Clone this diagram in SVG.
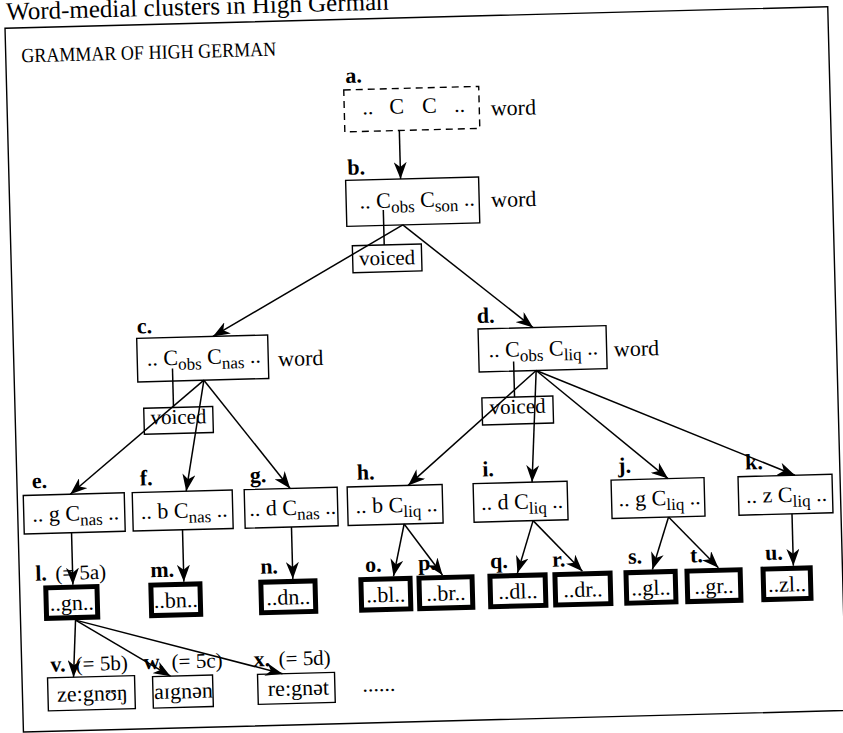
<svg xmlns="http://www.w3.org/2000/svg" width="843" height="733" viewBox="0 0 843 733">
<defs>
<marker id="ah" viewBox="0 0 17 13" markerWidth="17" markerHeight="13" refX="17" refY="6.5" orient="auto" markerUnits="userSpaceOnUse"><path d="M0,0 L17,6.5 L0,13 L5,6.5 Z" fill="#000"/></marker>
<style>
text{font-family:"Liberation Serif","DejaVu Serif",serif;fill:#000}
.t{font-size:22px}
.s{font-size:17px}
.lb{font-size:22px;font-weight:bold}
.n{font-size:21px}
.k{font-size:22px;text-anchor:middle}
.v{font-size:21px;text-anchor:middle}
.bx{fill:none;stroke:#000;stroke-width:1.4}
.tk{fill:none;stroke:#000;stroke-width:5}
.ds{stroke-dasharray:7 5}
.e{fill:none;stroke:#000;stroke-width:1.5}
.a{marker-end:url(#ah)}
.m{text-anchor:middle}
</style>
</defs>
<rect width="843" height="733" fill="#fff"/>
<g transform="rotate(-1.5 421 366)">
<text x="15.5" y="9" style="font-size:25px">Word-medial clusters in High German</text>
<rect class="bx" x="14" y="17.5" width="823" height="704"/>
<text x="29.5" y="52" style="font-size:20px" textLength="255" lengthAdjust="spacingAndGlyphs">GRAMMAR OF HIGH GERMAN</text>

<g id="node-a">
<rect class="bx ds" x="351" y="88" width="135" height="42"/>
<text class="lb" x="353" y="81">a.</text>
<text class="t" y="113"><tspan x="369">..</tspan><tspan x="396">C</tspan><tspan x="429">C</tspan><tspan x="461">..</tspan></text>
<text class="t" x="497.5" y="117.5">word</text>
</g>
<g id="node-b">
<rect class="bx" x="350.5" y="178.5" width="133" height="46"/>
<text class="lb" x="352.5" y="173">b.</text>
<text class="t" x="364" y="207">.. C<tspan class="s" dy="5">obs</tspan><tspan dy="-5"> C</tspan><tspan class="s" dy="5">son</tspan><tspan dy="-5"> ..</tspan></text>
<text class="t" x="495.5" y="209">word</text>
</g>
<g id="voiced-b">
<rect class="bx" x="355.5" y="244" width="69" height="27"/>
<text class="v" x="390" y="264">voiced</text>
</g>
<g id="node-c">
<rect class="bx" x="137.5" y="331" width="131" height="43.5"/>
<text class="lb" x="138" y="326">c.</text>
<text class="t" x="147" y="358.5">.. C<tspan class="s" dy="5">obs</tspan><tspan dy="-5"> C</tspan><tspan class="s" dy="5">nas</tspan><tspan dy="-5"> ..</tspan></text>
<text class="t" x="278.3" y="362.5">word</text>
</g>
<g id="voiced-c">
<rect class="bx" x="142.7" y="401" width="69" height="26"/>
<text class="v" x="177.2" y="417.5">voiced</text>
</g>
<g id="node-d">
<rect class="bx" x="479" y="330.5" width="128" height="43"/>
<text class="lb" x="478" y="324.5">d.</text>
<text class="t" x="489" y="359">.. C<tspan class="s" dy="5">obs</tspan><tspan dy="-5"> C</tspan><tspan class="s" dy="5">liq</tspan><tspan dy="-5"> ..</tspan></text>
<text class="t" x="614.2" y="361.5">word</text>
</g>
<g id="voiced-d">
<rect class="bx" x="481" y="399.5" width="71" height="27"/>
<text class="v" x="516.5" y="416">voiced</text>
</g>

<g id="node-e">
<rect class="bx" x="20" y="485" width="101" height="38.5"/>
<text class="lb" x="29" y="478">e.</text>
<text class="t m" x="72" y="511.5">.. g C<tspan class="s" dy="5">nas</tspan><tspan dy="-5"> ..</tspan></text>
</g>
<g id="node-f">
<rect class="bx" x="129" y="485" width="100" height="38.5"/>
<text class="lb" x="137" y="478">f.</text>
<text class="t m" x="180.5" y="511.5">.. b C<tspan class="s" dy="5">nas</tspan><tspan dy="-5"> ..</tspan></text>
</g>
<g id="node-g">
<rect class="bx" x="241" y="485" width="93" height="38.5"/>
<text class="lb" x="247" y="478">g.</text>
<text class="t m" x="289" y="511.5">.. d C<tspan class="s" dy="5">nas</tspan><tspan dy="-5"> ..</tspan></text>
</g>
<g id="node-h">
<rect class="bx" x="344" y="485" width="95" height="38.5"/>
<text class="lb" x="354" y="478">h.</text>
<text class="t m" x="393" y="511.5">.. b C<tspan class="s" dy="5">liq</tspan><tspan dy="-5"> ..</tspan></text>
</g>
<g id="node-i">
<rect class="bx" x="470" y="485" width="94" height="38.5"/>
<text class="lb" x="479.5" y="478">i.</text>
<text class="t m" x="518.5" y="511.5">.. d C<tspan class="s" dy="5">liq</tspan><tspan dy="-5"> ..</tspan></text>
</g>
<g id="node-j">
<rect class="bx" x="608" y="485" width="93" height="38.5"/>
<text class="lb" x="615.5" y="478">j.</text>
<text class="t m" x="656" y="511.5">.. g C<tspan class="s" dy="5">liq</tspan><tspan dy="-5"> ..</tspan></text>
</g>
<g id="node-k">
<rect class="bx" x="735" y="485" width="94" height="38.5"/>
<text class="lb" x="742.5" y="478">k.</text>
<text class="t m" x="783" y="511.5">.. z C<tspan class="s" dy="5">liq</tspan><tspan dy="-5"> ..</tspan></text>
</g>

<g id="node-l">
<rect class="tk" x="40.1" y="578" width="51.2" height="30.5"/>
<text class="lb" x="30" y="570.5">l.</text>
<text class="n" x="50" y="570.5">(= 5a)</text>
<text class="k" x="65.7" y="601">..gn..</text>
</g>
<g id="node-m">
<rect class="tk" x="145.2" y="578" width="49.1" height="30.5"/>
<text class="lb" x="145" y="570">m.</text>
<text class="k" x="169.7" y="601">..bn..</text>
</g>
<g id="node-n">
<rect class="tk" x="255.2" y="578" width="54.2" height="30.5"/>
<text class="lb" x="255" y="569.5">n.</text>
<text class="k" x="282.3" y="601">..dn..</text>
</g>
<g id="node-o">
<rect class="tk" x="355.3" y="578" width="49.2" height="30.5"/>
<text class="lb" x="360" y="570.5">o.</text>
<text class="k" x="379.9" y="601">..bl..</text>
</g>
<g id="node-p">
<rect class="tk" x="413.4" y="578" width="53.1" height="30.5"/>
<text class="lb" x="413" y="570">p.</text>
<text class="k" x="440" y="601">..br..</text>
</g>
<g id="node-q">
<rect class="tk" x="484.4" y="578" width="55.2" height="30.5"/>
<text class="lb" x="485" y="570">q.</text>
<text class="k" x="512" y="601">..dl..</text>
</g>
<g id="node-r">
<rect class="tk" x="549.4" y="578" width="55.2" height="30.5"/>
<text class="lb" x="547" y="570">r.</text>
<text class="k" x="577" y="601">..dr..</text>
</g>
<g id="node-s">
<rect class="tk" x="620.5" y="578" width="49.2" height="30.5"/>
<text class="lb" x="623" y="569">s.</text>
<text class="k" x="645.1" y="601">..gl..</text>
</g>
<g id="node-t">
<rect class="tk" x="681.5" y="578" width="53.2" height="30.5"/>
<text class="lb" x="685" y="569.5">t.</text>
<text class="k" x="708.1" y="601">..gr..</text>
</g>
<g id="node-u">
<rect class="tk" x="757.6" y="578" width="47.2" height="30.5"/>
<text class="lb" x="760" y="569">u.</text>
<text class="k" x="781.2" y="601">..zl..</text>
</g>

<g id="node-v">
<rect class="bx" x="39.5" y="668" width="87" height="33"/>
<text class="lb" x="42.5" y="662">v.</text>
<text class="n" x="68" y="662">(= 5b)</text>
<text class="t m" x="84" y="692">ze:gnʊŋ</text>
</g>
<g id="node-w">
<rect class="bx" x="144.5" y="669.5" width="60" height="31.5"/>
<text class="lb" x="135.8" y="662">w.</text>
<text class="n" x="164" y="662">(= 5c)</text>
<text class="t m" x="175" y="692">aɪgnən</text>
</g>
<g id="node-x">
<rect class="bx" x="249.5" y="670" width="77" height="30"/>
<text class="lb" x="246" y="662">x.</text>
<text class="n" x="271" y="662">(= 5d)</text>
<text class="t m" x="290" y="692">re:gnət</text>
</g>
<g id="more">
<text class="t" x="354" y="690">......</text>
</g>

<g id="connectors">
<path class="e a" d="M405.5,130 V178.5"/>
<path class="e a" d="M406.5,224.5 L213.8,331"/>
<path class="e a" d="M406.5,224.5 L534,330.5"/>
<path class="e" d="M387.4,209 V244"/>
<path class="e a" d="M203.6,374.5 L67,485"/>
<path class="e a" d="M203.6,374.5 L183,485"/>
<path class="e a" d="M203.6,374.5 L287,485"/>
<path class="e" d="M172.5,362 V401"/>
<path class="e a" d="M536,373.5 L405,485"/>
<path class="e a" d="M536,373.5 L529,485"/>
<path class="e a" d="M536,373.5 L665,485"/>
<path class="e a" d="M536,373.5 L792,485"/>
<path class="e" d="M513.7,364 V399.5"/>
<path class="e a" d="M67.3,523.5 V575.5"/>
<path class="e a" d="M178.3,523.5 V575.5"/>
<path class="e a" d="M287.3,523.5 V575.5"/>
<path class="e a" d="M400,523.5 L388,575.5"/>
<path class="e a" d="M400,523.5 L437,575.5"/>
<path class="e a" d="M529,523.5 L512,575.5"/>
<path class="e a" d="M529,523.5 L577,575.5"/>
<path class="e a" d="M664.5,523.5 L647,575.5"/>
<path class="e a" d="M664.5,523.5 L713,575.5"/>
<path class="e a" d="M788,523.5 V575.5"/>
<path class="e a" d="M69,611 L65.5,668"/>
<path class="e a" d="M69,611 L162.5,669.5"/>
<path class="e a" d="M69,611 L274.5,670"/>
</g>
</g>
</svg>
